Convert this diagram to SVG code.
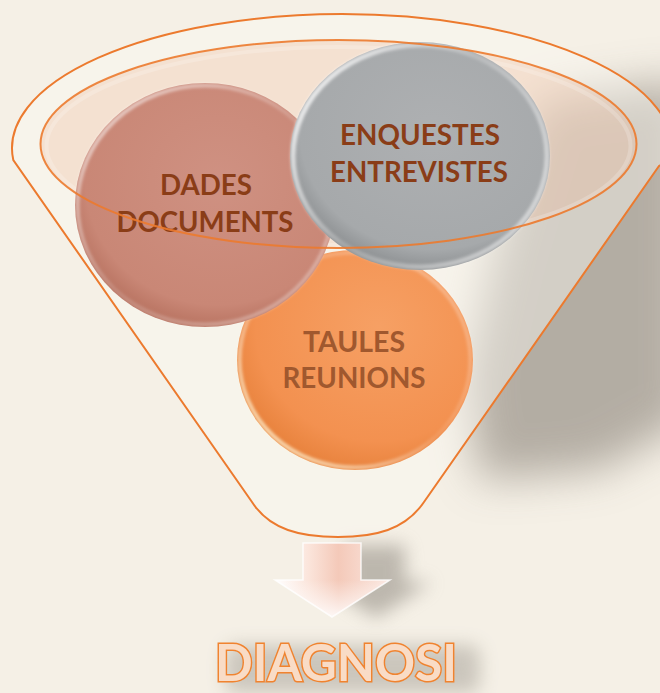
<svg xmlns="http://www.w3.org/2000/svg" width="660" height="693" viewBox="0 0 660 693">
<defs>
<style>
.lbl{font-family:Lato,"Open Sans","Liberation Sans",sans-serif;font-weight:bold;font-size:28px;text-anchor:middle;fill:#8a3d17}
.lbl2{fill:#a0582e}
.outline{fill:none;stroke:#ec7a2e;stroke-width:2}
</style>
<filter id="bigblur" x="-50%" y="-50%" width="200%" height="200%"><feGaussianBlur stdDeviation="22"/></filter>
<filter id="midblur" x="-50%" y="-50%" width="200%" height="200%"><feGaussianBlur stdDeviation="9"/></filter>
<filter id="softblur" x="-20%" y="-20%" width="140%" height="140%"><feGaussianBlur stdDeviation="1.5"/></filter>
<radialGradient id="roseG" cx="0.55" cy="0.4" r="0.6">
<stop offset="0" stop-color="#cf9182"/><stop offset="0.85" stop-color="#c98776"/><stop offset="1" stop-color="#b97462"/>
</radialGradient>
<radialGradient id="grayG" cx="0.55" cy="0.4" r="0.6">
<stop offset="0" stop-color="#aeb0b2"/><stop offset="0.85" stop-color="#a6a9ab"/><stop offset="1" stop-color="#8d9092"/>
</radialGradient>
<radialGradient id="orgG" cx="0.6" cy="0.35" r="0.65">
<stop offset="0" stop-color="#f6a064"/><stop offset="0.8" stop-color="#f39150"/><stop offset="1" stop-color="#e9843f"/>
</radialGradient>
<linearGradient id="rimRose" x1="0" y1="0" x2="1" y2="1">
<stop offset="0" stop-color="#ffffff" stop-opacity="0.7"/><stop offset="0.5" stop-color="#ffffff" stop-opacity="0.15"/><stop offset="1" stop-color="#ffffff" stop-opacity="0.4"/>
</linearGradient>
<linearGradient id="rimGray" x1="0" y1="0" x2="1" y2="0.6">
<stop offset="0" stop-color="#ffffff" stop-opacity="0.95"/><stop offset="0.55" stop-color="#ffffff" stop-opacity="0.2"/><stop offset="1" stop-color="#ffffff" stop-opacity="0.5"/>
</linearGradient>
<linearGradient id="rimOrg" x1="0" y1="1" x2="1" y2="0">
<stop offset="0" stop-color="#fff4c8" stop-opacity="0.95"/><stop offset="0.5" stop-color="#ffffff" stop-opacity="0.1"/><stop offset="1" stop-color="#ffffff" stop-opacity="0.35"/>
</linearGradient>
<linearGradient id="arrowG" x1="0" y1="0" x2="1" y2="0">
<stop offset="0" stop-color="#ffffff"/><stop offset="0.3" stop-color="#fbe4da"/><stop offset="0.55" stop-color="#f4c9b9"/><stop offset="1" stop-color="#fbe9e2"/>
</linearGradient>
<linearGradient id="arrowHeadG" x1="0" y1="0" x2="0" y2="1">
<stop offset="0" stop-color="#ffffff" stop-opacity="0"/><stop offset="1" stop-color="#ffffff" stop-opacity="0.85"/>
</linearGradient>
</defs>

<rect width="660" height="693" fill="#f5f0e6"/>

<g id="shadows">
<path d="M540 100 L690 80 L690 420 L600 470 L480 480 L465 380 L495 250 Z" fill="#958e84" opacity="0.68" filter="url(#bigblur)"/>
<path d="M345 545 L405 545 L405 582 L432 582 L376 618 L320 582 L345 582 Z" fill="#8f8980" opacity="0.55" filter="url(#midblur)"/>
<rect x="225" y="645" width="255" height="48" rx="10" fill="#9a948b" opacity="0.45" filter="url(#midblur)"/>
</g>

<g id="funnel">
<path d="M252 502 L13.3 160 A330 134 0 1 1 670.7 160 L659 166 L424 502 C405 530 375 537 338 537 C301 537 270 530 252 502 Z" fill="#fbf8f2" fill-opacity="0.45"/>
<ellipse cx="338.5" cy="144" rx="298" ry="104" fill="#f0b594" fill-opacity="0.3"/>
<ellipse cx="338.5" cy="146" rx="292" ry="99" fill="none" stroke="#ffffff" stroke-opacity="0.2" stroke-width="4"/>
</g>

<g id="node-taules">
<ellipse cx="355" cy="360" rx="118" ry="110" fill="url(#orgG)"/>
<ellipse cx="355" cy="360" rx="115.5" ry="107.5" fill="none" stroke="url(#rimOrg)" stroke-width="4" filter="url(#softblur)"/>
<text class="lbl lbl2" x="354" y="352" textLength="102" lengthAdjust="spacingAndGlyphs">TAULES</text>
<text class="lbl lbl2" x="354" y="388" textLength="143" lengthAdjust="spacingAndGlyphs">REUNIONS</text>
</g>

<g id="node-dades">
<ellipse cx="205" cy="205" rx="130" ry="122" fill="url(#roseG)"/>
<ellipse cx="205" cy="205" rx="127.5" ry="119.5" fill="none" stroke="url(#rimRose)" stroke-width="4" filter="url(#softblur)"/>
<text class="lbl" x="206" y="195" textLength="92" lengthAdjust="spacingAndGlyphs">DADES</text>
<text class="lbl" x="205" y="232" textLength="177" lengthAdjust="spacingAndGlyphs">DOCUMENTS</text>
</g>

<g id="node-enquestes">
<ellipse cx="420" cy="156" rx="130" ry="114" fill="url(#grayG)"/>
<ellipse cx="420" cy="156" rx="127" ry="111" fill="none" stroke="url(#rimGray)" stroke-width="5" filter="url(#softblur)"/>
<text class="lbl" x="420" y="145" textLength="160" lengthAdjust="spacingAndGlyphs">ENQUESTES</text>
<text class="lbl" x="419" y="182" textLength="178" lengthAdjust="spacingAndGlyphs">ENTREVISTES</text>
</g>

<g id="connectors">
<ellipse cx="338.5" cy="144" rx="298" ry="104" class="outline" stroke-opacity="0.9"/>
<path d="M252 502 L13.3 160 A330 134 0 1 1 670.7 160 L659 166 L424 502 C405 530 375 537 338 537 C301 537 270 530 252 502 Z" class="outline"/>
</g>

<g id="arrow">
<path d="M303 543 L361 543 L361 580 L390 580 L332 617 L275 580 L303 580 Z" fill="url(#arrowG)"/>
<path d="M275 580 L390 580 L332 617 Z" fill="url(#arrowHeadG)"/>
<path d="M303 543 L361 543 L361 580 L390 580 L332 617 L275 580 L303 580 Z" fill="none" stroke="#ffffff" stroke-width="1.5" stroke-opacity="0.8"/>
</g>

<g id="node-diagnosi">
<text x="336" y="681" font-family="Lato,'Open Sans','Liberation Sans',sans-serif" font-weight="bold" font-size="52" text-anchor="middle" textLength="242" lengthAdjust="spacingAndGlyphs" fill="#f9dcc6" stroke="#f0832f" stroke-width="3" paint-order="stroke">DIAGNOSI</text>
</g>
</svg>
